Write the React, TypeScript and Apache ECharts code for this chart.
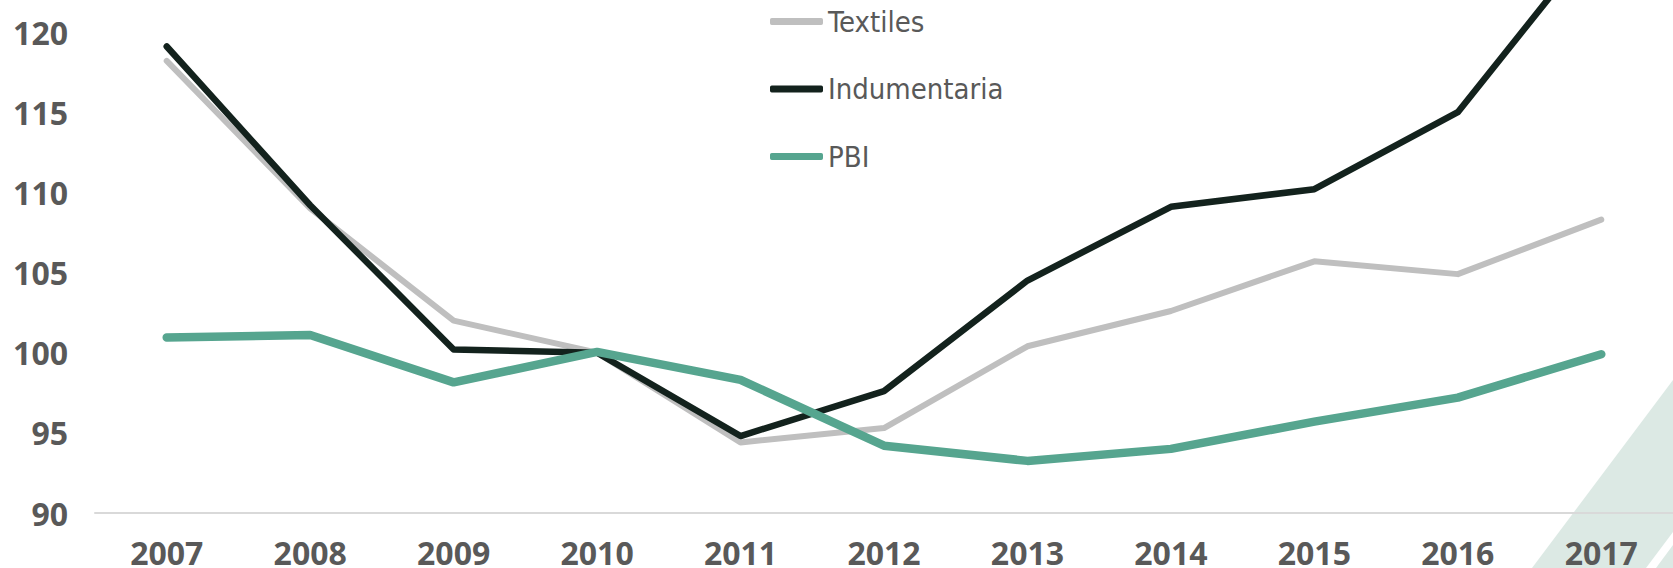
import React, { useEffect, useRef } from "react";
import * as echarts from "echarts";

const years = ["2007", "2008", "2009", "2010", "2011", "2012", "2013", "2014", "2015", "2016", "2017"];
const textiles = [118.2, 109.0, 102.0, 100.0, 94.4, 95.3, 100.4, 102.6, 105.7, 104.9, 108.3];
const indumentaria = [119.1, 109.2, 100.2, 100.0, 94.8, 97.6, 104.5, 109.1, 110.2, 115.0, 126.2];
const pbi = [100.95, 101.1, 98.15, 100.05, 98.3, 94.2, 93.25, 94.0, 95.7, 97.2, 99.9];

const seriesNames = ["Textiles", "Indumentaria", "PBI"];
const seriesColors = ["#bfbfbf", "#13221d", "#56a58f"];
const seriesWidths = [6, 6.5, 8.5];

export default function App() {
  const ref = useRef<HTMLDivElement>(null);

  useEffect(() => {
    if (!ref.current) return;
    const chart = echarts.init(ref.current, null, { renderer: "svg" });
    const datas = [textiles, indumentaria, pbi];
    const labelColor = "#595959";

    chart.setOption({
      animation: false,
      backgroundColor: "#ffffff",
      graphic: [
        {
          type: "polygon",
          silent: true,
          z: -10,
          shape: { points: [[1532, 568], [1673, 380], [1673, 532], [1646, 568]] },
          style: { fill: "#dce9e4" },
        },
        {
          type: "polygon",
          silent: true,
          z: -10,
          shape: { points: [[1656, 568], [1673, 545], [1673, 568]] },
          style: { fill: "#dce9e4" },
        },
      ],
      grid: { left: 95, right: -9, top: 0, bottom: 54, containLabel: false },
      legend: {
        orient: "vertical",
        left: 765,
        top: 1.5,
        itemGap: 37.5,
        itemWidth: 53,
        itemHeight: 7,
        icon: "roundRect",
        data: seriesNames,
        textStyle: {
          fontFamily: "'DejaVu Sans Condensed', 'DejaVu Sans', sans-serif",
          fontSize: 29,
          lineHeight: 30,
          color: labelColor,
        },
      },
      xAxis: {
        type: "category",
        data: years,
        boundaryGap: true,
        axisLine: { show: true, lineStyle: { color: "#d9d9d9", width: 2 } },
        axisTick: { show: false },
        axisLabel: {
          margin: 23,
          color: labelColor,
          fontFamily: "'Open Sans', sans-serif",
          fontWeight: "bold",
          fontSize: 32,
        },
        splitLine: { show: false },
      },
      yAxis: {
        type: "value",
        min: 90,
        max: 122,
        interval: 5,
        axisLine: { show: false },
        axisTick: { show: false },
        splitLine: { show: false },
        axisLabel: {
          margin: 27,
          showMaxLabel: false,
          color: labelColor,
          fontFamily: "'Open Sans', sans-serif",
          fontWeight: "bold",
          fontSize: 32,
          formatter: (v: number) => (v % 5 === 0 ? String(v) : ""),
        },
      },
      series: seriesNames.map((name, i) => ({
        name,
        type: "line",
        data: datas[i],
        showSymbol: false,
        symbol: "none",
        clip: true,
        z: i === 1 ? 3 : i === 2 ? 4 : 2,
        itemStyle: { color: seriesColors[i] },
        lineStyle: { color: seriesColors[i], width: seriesWidths[i], cap: "round", join: "round" },
      })),
    });

    return () => chart.dispose();
  }, []);

  return (
    <div
      ref={ref}
      style={{ position: "fixed", left: 0, top: 0, width: 1673, height: 568, background: "#fff" }}
    />
  );
}
